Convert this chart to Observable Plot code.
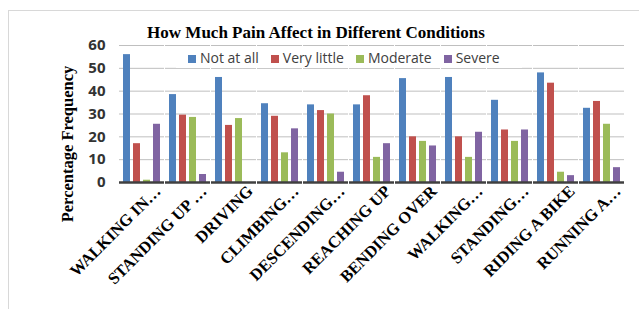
<!DOCTYPE html>
<html><head><meta charset="utf-8">
<script src="https://cdn.jsdelivr.net/npm/d3@7"></script>
<script src="https://cdn.jsdelivr.net/npm/@observablehq/plot@0.6"></script>
<style>
body{margin:0;background:#fff;}
#wrap{position:relative;width:639px;height:309px;overflow:hidden;}
#frame{position:absolute;left:8px;top:10px;width:640px;height:300px;border-left:1.5px solid #d8d8d8;border-top:1.5px solid #d8d8d8;box-sizing:border-box;}
#title{position:absolute;left:0;width:632px;top:23px;text-align:center;font:bold 17px "Liberation Serif",serif;color:#000;}
#legend{position:absolute;left:176px;top:47px;width:346px;height:21px;background:#fff;display:flex;align-items:center;justify-content:flex-start;padding-left:12px;box-sizing:border-box;gap:12px;font:14px "Open Sans",sans-serif;color:#404040;}
#legend span.sw{display:inline-block;width:8px;height:8px;margin-right:4px;}
#ylabel{position:absolute;left:68px;top:144px;transform:translate(-50%,-50%) rotate(-90deg);white-space:nowrap;font:bold 16.5px "Liberation Serif",serif;color:#000;}
svg{position:absolute;left:0;top:0;}
</style></head>
<body><div id="wrap"><div id="frame"></div><div id="chart"></div><div id="title"></div><div id="legend"></div><div id="ylabel">Percentage Frequency</div></div>
<script>
const conditions = ["WALKING IN…","STANDING UP …","DRIVING","CLIMBING…","DESCENDING…","REACHING UP","BENDING OVER","WALKING…","STANDING…","RIDING A BIKE","RUNNING A…"];
const series = ["Not at all","Very little","Moderate","Severe"];
const colors = ["#4F81BD","#C0504D","#9BBB59","#8064A2"];
const notAtAll   = [56, 38.5, 46, 34.5, 34, 34, 45.5, 46, 36, 48, 32.5];
const veryLittle = [17, 29.5, 25, 29, 31.5, 38, 20, 20, 23, 43.5, 35.5];
const moderate   = [1, 28.5, 28, 13, 30, 11, 18, 11, 18, 4.5, 25.5];
const severe     = [25.5, 3.5, 0, 23.5, 4.5, 17, 16, 22, 23, 3, 6.5];
const yTicks = [0,10,20,30,40,50,60];
const title = "How Much Pain Affect in Different Conditions";

const data = [];
const vals = [notAtAll, veryLittle, moderate, severe];
conditions.forEach((c,i)=>series.forEach((s,j)=>data.push({condition:c, series:s, value:vals[j][i]})));

document.getElementById("title").textContent = title;
const lg = document.getElementById("legend");
series.forEach((s,j)=>{const d=document.createElement("span");d.innerHTML=`<span class="sw" style="background:${colors[j]}"></span>${s}`;lg.appendChild(d);});

const chart = Plot.plot({
  width: 639, height: 309,
  marginLeft: 117, marginRight: 12, marginTop: 45, marginBottom: 127,
  style: {background:"transparent", overflow:"visible"},
  fx: {domain: conditions, padding: 0.02, label: null, axis: null},
  x: {domain: series, padding: 0.3, axis: null},
  y: {domain: [0,60], ticks: yTicks, label: null},
  color: {domain: series, range: colors},
  marks: [
    Plot.gridY(yTicks, {stroke:"#bfbfbf", strokeOpacity:1, strokeWidth:1}),
    Plot.barY(data, {fx:"condition", x:"series", y:"value", fill:"series"}),
    Plot.ruleY([0], {stroke:"#404040", strokeWidth:2.5}),
    Plot.axisY(yTicks, {tickSize:0, tickPadding:14, fontSize:15, fontWeight:"bold", fill:"#333", fontFamily:"Open Sans, sans-serif"}),
    Plot.axisFx({anchor:"bottom", tickRotate:-45, tickSize:0, tickPadding:0, fontSize:16.5, fontWeight:"bold", fontFamily:"Liberation Serif, serif", fill:"#000", dx:16, dy:6, label:null})
  ]
});
document.getElementById("chart").appendChild(chart);
</script></body></html>
